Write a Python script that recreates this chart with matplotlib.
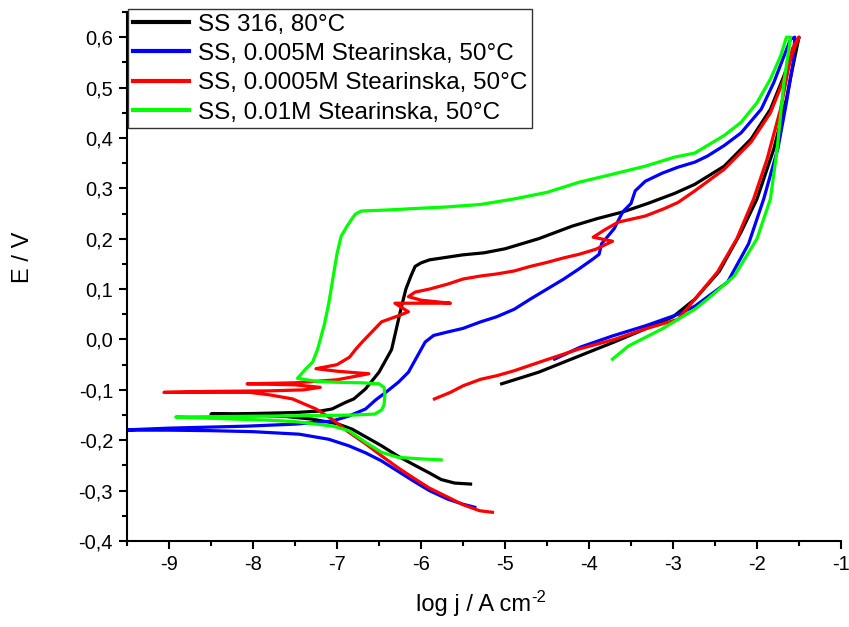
import matplotlib
matplotlib.use("Agg")
import matplotlib.pyplot as plt
from matplotlib.ticker import MultipleLocator, FuncFormatter

# log j / A cm-2 and E / V, one path per scan
ss316_x = [-5.41, -5.6, -5.76, -5.9, -6.07, -6.27, -6.47, -6.66, -6.82, -7.0, -7.3, -7.6, -8.0, -8.5,
           -8.0, -7.5, -7.2, -7.06, -6.9, -6.8, -6.66, -6.5, -6.35, -6.24, -6.18, -6.12, -6.07, -6.0,
           -5.9, -5.7, -5.5, -5.25, -5.0, -4.6, -4.2, -3.9, -3.6, -3.3, -2.98, -2.74, -2.39, -2.07,
           -1.84, -1.68, -1.56, -1.5, -1.53, -1.6, -1.65, -1.8, -2.0, -2.19, -2.45, -2.74, -3.0,
           -3.33, -3.7, -4.12, -4.6, -5.04]
ss316_y = [-0.287, -0.285, -0.278, -0.265, -0.25, -0.232, -0.211, -0.193, -0.178, -0.167, -0.158,
           -0.153, -0.15, -0.148, -0.147, -0.145, -0.142, -0.138, -0.125, -0.118, -0.098, -0.065,
           -0.02, 0.06, 0.1, 0.126, 0.145, 0.152, 0.158, 0.163, 0.168, 0.172, 0.18, 0.2, 0.225, 0.24,
           0.253, 0.27, 0.29, 0.308, 0.344, 0.398, 0.457, 0.523, 0.577, 0.6, 0.576, 0.52, 0.477,
           0.378, 0.279, 0.213, 0.135, 0.08, 0.045, 0.021, -0.005, -0.033, -0.065, -0.088]

m005_x = [-5.36, -5.5, -5.68, -5.9, -6.07, -6.27, -6.47, -6.66, -6.86, -7.1, -7.45, -8.0, -8.5, -9.0,
          -9.6, -9.0, -8.07, -7.5, -7.06, -6.86, -6.66, -6.54, -6.42, -6.27, -6.15, -6.0, -5.95,
          -5.85, -5.68, -5.5, -5.29, -5.1, -4.89, -4.7, -4.5, -4.3, -4.12, -3.95, -3.88, -3.85, -3.7,
          -3.6, -3.5, -3.45, -3.33, -3.13, -2.94, -2.74, -2.59, -2.39, -2.19, -1.95, -1.8, -1.68,
          -1.6, -1.55, -1.57, -1.65, -1.75, -1.92, -2.1, -2.35, -2.74, -2.94, -3.33, -3.72, -4.1,
          -4.41]
m005_y = [-0.333, -0.327, -0.317, -0.3, -0.283, -0.262, -0.241, -0.225, -0.211, -0.198, -0.188,
          -0.183, -0.181, -0.18, -0.18, -0.176, -0.172, -0.168, -0.162, -0.152, -0.138, -0.12,
          -0.105, -0.085, -0.065, -0.02, -0.005, 0.008, 0.015, 0.022, 0.035, 0.045, 0.06, 0.08, 0.1,
          0.12, 0.14, 0.16, 0.169, 0.19, 0.22, 0.253, 0.27, 0.295, 0.314, 0.33, 0.342, 0.352, 0.364,
          0.385, 0.41, 0.457, 0.51, 0.562, 0.596, 0.6, 0.55, 0.47, 0.38, 0.279, 0.19, 0.114, 0.066,
          0.05, 0.027, 0.007, -0.015, -0.039]

m0005_x = [-5.15, -5.3, -5.5, -5.68, -5.9, -6.07, -6.27, -6.47, -6.66, -6.86, -7.06, -7.25, -7.53,
           -7.8, -8.04, -8.5, -9.06, -8.5, -7.8, -7.4, -7.2, -7.5, -8.07, -7.5, -7.0, -6.62, -7.0,
           -7.25, -7.0, -6.85, -6.78, -6.7, -6.47, -6.27, -6.15, -6.31, -5.65, -6.0, -6.15, -6.07,
           -5.9, -5.68, -5.5, -5.29, -5.1, -4.89, -4.7, -4.5, -4.3, -4.12, -3.92, -3.72, -3.95,
           -3.8, -3.65, -3.33, -3.1, -2.94, -2.74, -2.39, -2.07, -1.84, -1.68, -1.56, -1.5, -1.58,
           -1.72, -1.88, -2.04, -2.24, -2.47, -2.74, -2.94, -3.33, -3.7, -4.12, -4.5, -4.89, -5.1,
           -5.29, -5.5, -5.65, -5.84]
m0005_y = [-0.343, -0.34, -0.328, -0.313, -0.295, -0.277, -0.255, -0.231, -0.207, -0.184, -0.158,
           -0.138, -0.118, -0.11, -0.105, -0.105, -0.105, -0.103, -0.102, -0.1, -0.095, -0.09,
           -0.088, -0.086, -0.08, -0.068, -0.063, -0.058, -0.05, -0.035, -0.02, -0.005, 0.035,
           0.047, 0.055, 0.072, 0.072, 0.078, 0.085, 0.094, 0.1, 0.11, 0.12, 0.126, 0.13, 0.136,
           0.145, 0.153, 0.162, 0.169, 0.179, 0.195, 0.203, 0.219, 0.233, 0.245, 0.26, 0.272, 0.295,
           0.338, 0.392, 0.45, 0.517, 0.577, 0.6, 0.577, 0.457, 0.358, 0.279, 0.2, 0.134, 0.08,
           0.04, 0.021, 0.0, -0.019, -0.04, -0.062, -0.072, -0.079, -0.092, -0.105, -0.118]

m01_x = [-5.76, -6.0, -6.27, -6.47, -6.66, -6.86, -7.05, -7.25, -7.5, -7.84, -8.4, -8.92, -8.4, -7.8,
         -7.2, -6.8, -6.55, -6.47, -6.44, -6.43, -6.44, -6.5, -6.7, -7.0, -7.25, -7.47, -7.38,
         -7.29, -7.23, -7.15, -7.1, -7.05, -7.0, -6.95, -6.88, -6.82, -6.78, -6.71, -6.4, -6.07,
         -5.7, -5.29, -4.89, -4.5, -4.12, -3.72, -3.33, -2.98, -2.74, -2.59, -2.39, -2.19, -2.0,
         -1.84, -1.72, -1.65, -1.6, -1.68, -1.76, -1.84, -2.0, -2.27, -2.59, -2.74, -3.13, -3.53,
         -3.72]
m01_y = [-0.239, -0.237, -0.234, -0.224, -0.204, -0.181, -0.172, -0.168, -0.163, -0.16, -0.157,
         -0.154, -0.153, -0.152, -0.151, -0.15, -0.148, -0.14, -0.13, -0.11, -0.095, -0.088,
         -0.086, -0.085, -0.083, -0.077, -0.06, -0.045, -0.019, 0.03, 0.07, 0.12, 0.17, 0.205,
         0.225, 0.24, 0.249, 0.255, 0.257, 0.26, 0.263, 0.268, 0.279, 0.292, 0.312, 0.328, 0.344,
         0.362, 0.37, 0.385, 0.405, 0.431, 0.47, 0.517, 0.562, 0.6, 0.6, 0.51, 0.378, 0.279, 0.2,
         0.126, 0.08, 0.06, 0.021, -0.013, -0.039]

labels = ["SS 316, 80°C", "SS, 0.005M Stearinska, 50°C",
          "SS, 0.0005M Stearinska, 50°C", "SS, 0.01M Stearinska, 50°C"]
colors = ["#000000", "#0000ff", "#ff0000", "#00ff00"]

plt.rcParams["font.family"] = ["Liberation Sans", "DejaVu Sans"]

fig = plt.figure(figsize=(8.49, 6.27), dpi=100)
ax = fig.add_axes([127 / 849, 1 - 541 / 627, 714 / 849, 529 / 627])

series = [(ss316_x, ss316_y), (m005_x, m005_y), (m0005_x, m0005_y), (m01_x, m01_y)]
for (xs, ys), lab, col in zip(series, labels, colors):
    ax.plot(xs, ys, color=col, lw=2.3, label=lab, solid_joinstyle="round")

ax.set_xlim(-9.5, -1)
ax.set_ylim(-0.4, 0.65)

ax.xaxis.set_major_locator(MultipleLocator(1))
ax.xaxis.set_minor_locator(MultipleLocator(0.5))
ax.yaxis.set_major_locator(MultipleLocator(0.1))
ax.yaxis.set_minor_locator(MultipleLocator(0.05))
ax.xaxis.set_major_formatter(FuncFormatter(lambda v, p: "%d" % round(v)))
ax.yaxis.set_major_formatter(FuncFormatter(lambda v, p: ("%.1f" % v).replace(".", ",")))

ax.spines["top"].set_visible(False)
ax.spines["right"].set_visible(False)
ax.spines["left"].set_linewidth(1.5)
ax.spines["bottom"].set_linewidth(1.5)
ax.tick_params(which="major", direction="out", length=6, width=1.5, labelsize=14.5, pad=4)
ax.tick_params(which="minor", direction="out", length=3.5, width=1.5)

# axis labels; the superscript is a separate small text so it keeps a plain hyphen
ax.set_xlabel("log j / A cm", fontsize=17)
ax.xaxis.set_label_coords(0.485, -0.1)
ax.annotate("-2", xy=(1, 1), xycoords=ax.xaxis.label, xytext=(0.5, 3),
            textcoords="offset points", fontsize=12, ha="left", va="top")
ax.set_ylabel("E / V", fontsize=17)
ax.yaxis.set_label_coords(-0.13, 0.537)

leg = ax.legend(loc="upper left", bbox_to_anchor=(0.002, 1.006), fontsize=17.5, frameon=True,
                fancybox=False, edgecolor="black", borderpad=0.2, labelspacing=0.3,
                handlelength=2.3, handletextpad=0.35, borderaxespad=0)
leg.get_frame().set_linewidth(1.0)
for h in leg.get_lines():
    h.set_linewidth(3)

fig.savefig("out.png", dpi=100)
